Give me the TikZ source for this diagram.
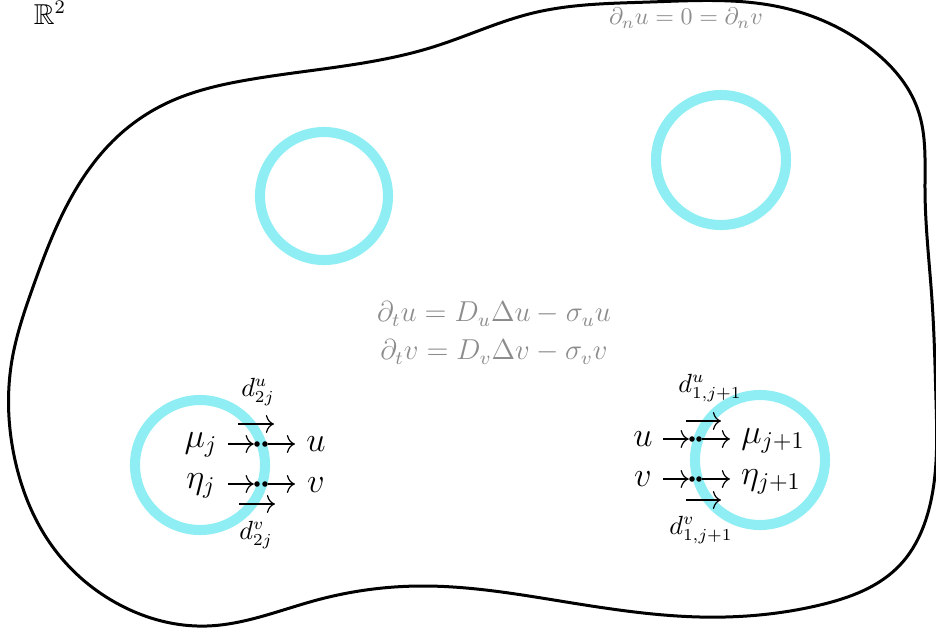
\documentclass[tikz,border=0pt]{standalone}
\usepackage{amssymb}
\usetikzlibrary{arrows.meta,hobby}
\definecolor{ringcol}{RGB}{142,238,244}
\definecolor{eqgray}{RGB}{140,140,140}
\begin{document}
\begin{tikzpicture}[x=0.4167pt,y=-0.4167pt,
  ring/.style={draw=ringcol,line width=4.2pt},
  lab/.style={inner sep=0pt,font=\fontsize{14.5}{16}\selectfont},
  dlab/.style={inner sep=0pt,font=\fontsize{10.5}{12}\selectfont},
  eq/.style={inner sep=0pt,text=eqgray,font=\fontsize{11.5}{13}\selectfont},
  arr/.style={-{To[length=3.4pt,width=7.5pt]},line width=0.5pt},
  dotb/.style={circle,fill=black,inner sep=0pt,minimum size=2.3pt}]
\useasboundingbox (0,0) rectangle (936,631);
% boundary
\draw[line width=1.25pt,use Hobby shortcut,closed=true]
(247,80)..(433,47)..(533,13)..(650,2)..(780,7)..(870,48)..(918,110)..(925,190)..(932,300)..(936,400)..(930,505)..(900,565)..(820,605)..(700,617)..(560,601)..(420,586)..(317,600)..(207,626)..(120,605)..(55,550)..(15,460)..(12,360)..(33,287)..(63,213)..(117,137)..(167,103);
% rings
\draw[ring] (324,196) circle (64);
\draw[ring] (721,160) circle (65);
\draw[ring] (200,465) circle (65);
\draw[ring] (760,460) circle (65);
% labels
\node[inner sep=0pt,font=\fontsize{12}{14}\selectfont] (R2) at (50,13) {$\mathbb{R}^2$};
\node[eq,font=\fontsize{10}{12}\selectfont] (bc) at (686,18) {$\partial_n u = 0 = \partial_n v$};
\node[eq] (e1) at (494,314) {$\partial_t u = D_u \Delta u - \sigma_u u$};
\node[eq] (e2) at (494,352) {$\partial_t v = D_v \Delta v - \sigma_v v$};
% left group
\node[lab] (mu) at (201,445) {$\mu_j$};
\node[lab] (eta) at (201,486) {$\eta_j$};
\node[lab] (uL) at (316,444) {$u$};
\node[lab] (vL) at (316,485) {$v$};
\node[dotb] (a1) at (257,444) {}; \node[dotb] (a2) at (265,444) {};
\node[dotb] (b1) at (257,484) {}; \node[dotb] (b2) at (265,484) {};
\coordinate (ma) at (228,444); \coordinate (mb) at (295,444);
\coordinate (ea) at (228,484); \coordinate (eb) at (295,484);
\draw[arr] (ma) -- (a1.west);
\draw[arr] (a2.east) -- (mb);
\draw[arr] (ea) -- (b1.west);
\draw[arr] (b2.east) -- (eb);
\coordinate (tuA) at (238,424); \coordinate (tuB) at (274,424);
\coordinate (tvA) at (239,504); \coordinate (tvB) at (275,504);
\draw[arr] (tuA) -- (tuB);
\draw[arr] (tvA) -- (tvB);
\node[dlab] (du) at (258,392) {$d^u_{2j}$};
\node[dlab] (dv) at (256,535) {$d^v_{2j}$};
% right group
\node[lab] (uR) at (643,439) {$u$};
\node[lab] (vR) at (643,479) {$v$};
\node[lab] (mu2) at (773,441) {$\mu_{j+1}$};
\node[lab] (eta2) at (771,482) {$\eta_{j+1}$};
\node[dotb] (c1) at (692,439) {}; \node[dotb] (c2) at (699,439) {};
\node[dotb] (e1d) at (692,479) {}; \node[dotb] (e2d) at (699,479) {};
\coordinate (ua) at (663,439); \coordinate (ub) at (730,439);
\coordinate (va) at (663,479); \coordinate (vb) at (730,479);
\draw[arr] (ua) -- (c1.west);
\draw[arr] (c2.east) -- (ub);
\draw[arr] (va) -- (e1d.west);
\draw[arr] (e2d.east) -- (vb);
\coordinate (ruA) at (686,421); \coordinate (ruB) at (721,421);
\coordinate (rvA) at (686,500); \coordinate (rvB) at (721,500);
\draw[arr] (ruA) -- (ruB);
\draw[arr] (rvA) -- (rvB);
\node[dlab] (du2) at (710,388) {$d^u_{1,j+1}$};
\node[dlab] (dv2) at (701,530) {$d^v_{1,j+1}$};
\end{tikzpicture}
\end{document}
